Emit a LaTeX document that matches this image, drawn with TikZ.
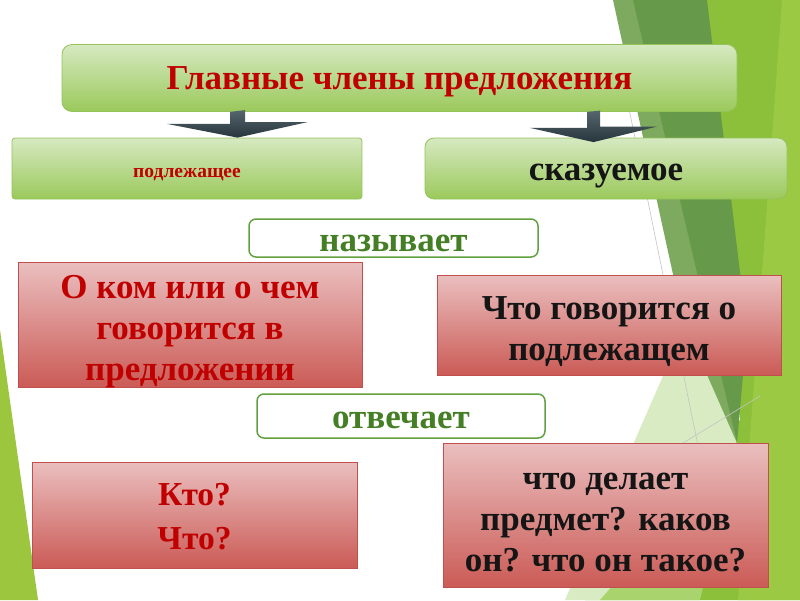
\documentclass[tikz,border=0pt]{standalone}
\usepackage{fontspec}
\setmainfont{Liberation Serif}
\usetikzlibrary{calc}
\definecolor{cBright}{HTML}{8CBF3A}
\definecolor{cStripe}{HTML}{9BC943}
\definecolor{cPale}{HTML}{D8EBC2}
\definecolor{cLight}{HTML}{A9D36C}
\definecolor{cMid}{HTML}{7DAA5E}
\definecolor{cDark}{HTML}{67994A}
\definecolor{cLine}{HTML}{C4C4C4}
\definecolor{cLeft}{HTML}{9DC63F}
\definecolor{gtop}{HTML}{D6E9C1}
\definecolor{gbot}{HTML}{9BC95B}
\definecolor{gline}{HTML}{93C35A}
\definecolor{rtop}{HTML}{EABFBF}
\definecolor{rbot}{HTML}{CB5B56}
\definecolor{rline}{HTML}{C0504D}
\definecolor{dred}{HTML}{C00000}
\definecolor{dgreen}{HTML}{457F25}
\definecolor{wline}{HTML}{62A040}
\definecolor{txtblack}{HTML}{151515}
\definecolor{arrtop}{HTML}{56666D}
\definecolor{arrbot}{HTML}{27353C}
\tikzset{
  greenbox/.style={draw=gline, line width=0.8pt, top color=gtop, bottom color=gbot,
    rounded corners=#1, inner sep=0pt},
  redbox/.style={draw=rline, line width=0.9pt, top color=rtop, bottom color=rbot,
    inner sep=0pt},
  whitebox/.style={draw=wline, line width=1.5pt, fill=white, rounded corners=7pt,
    inner sep=0pt},
  lbl/.style={inner sep=0pt, align=center},
  bigtext/.style={lbl, font=\fontsize{35}{41}\selectfont\bfseries},
  qtext/.style={lbl, font=\fontsize{33.5}{44}\selectfont\bfseries},
  smalltext/.style={lbl, font=\fontsize{19.5}{24}\selectfont\bfseries},
  arrowshape/.style={top color=arrtop, bottom color=arrbot}
}
\begin{document}
\begin{tikzpicture}[x=1pt,y=-1pt]
\useasboundingbox (0,0) rectangle (800,600);
\fill[white] (0,0) rectangle (800,600);
% background decoration
\fill[cBright] (700,0) -- (800,0) -- (800,600) -- (585,600) -- (740,420) -- cycle;
\fill[cStripe] (782,0) -- (800,0) -- (800,600) -- (738,600) -- cycle;
\fill[cPale] (705,280) -- (737,443) -- (640,600) -- (565,600) -- cycle;
\fill[cLight] (737,443) -- (700,600) -- (600,600) -- cycle;
\fill[cMid] (613,0) -- (640,0) -- (737,443) -- (683,320) -- cycle;
\fill[cDark] (633,0) -- (707,0) -- (747,330) -- (737,443) -- cycle;
\draw[cLine, line width=0.6pt] (618,55) -- (703,470);
\draw[cLine, line width=0.6pt] (683,443) -- (760,396);
\fill[cLeft] (0,330) -- (38,600) -- (0,600) -- cycle;
% boxes
\node[greenbox=10pt, minimum width=675pt, minimum height=67pt] (title) at (399.5,78) {};
\node[greenbox=3pt, minimum width=350pt, minimum height=61pt] (subj) at (187,168.5) {};
\node[greenbox=9pt, minimum width=362pt, minimum height=61pt] (pred) at (606,168.5) {};
\node[whitebox, minimum width=289pt, minimum height=38pt] (names) at (393.5,238) {};
\node[redbox, minimum width=344pt, minimum height=125pt] (subjname) at (190,324.5) {};
\node[redbox, minimum width=344pt, minimum height=100pt] (predname) at (609,325) {};
\node[whitebox, minimum width=288pt, minimum height=44pt] (answers) at (401,416) {};
\node[redbox, minimum width=325pt, minimum height=106pt] (subjq) at (194.5,515) {};
\node[redbox, minimum width=325pt, minimum height=144pt] (predq) at (605.5,515) {};
% texts
\node[bigtext, text=dred, yshift=-4pt] (titleT) at (title) {Главные члены предложения};
\node[smalltext, text=dred, yshift=-6pt] (subjT) at (subj) {подлежащее};
\node[bigtext, text=txtblack, yshift=-8pt] (predT) at (pred) {сказуемое};
\node[bigtext, text=dgreen, yshift=-5pt] (namesT) at (names) {называет};
\node[bigtext, text=dred, yshift=-7pt] (subjnameT) at (subjname)
  {О ком или о чем\\говорится в\\предложении};
\node[bigtext, text=txtblack, yshift=-7pt] (prednameT) at (predname)
  {Что говорится о\\подлежащем};
\node[bigtext, text=dgreen, yshift=-4pt] (answersT) at (answers) {отвечает};
\node[qtext, text=dred, yshift=-2pt] (subjqT) at (subjq) {Кто?\\Что?};
\node[bigtext, text=txtblack, yshift=-7pt] (predqT) at (predq)
  {что делает\\предмет? каков\\он? что он такое?};
% arrows
\coordinate (la) at (237.5,0);
\coordinate (ra) at (593.5,0);
\shade[arrowshape] (title.south -| la) ++(-7.5,0) -- ++(0,12) -- ++(-63,0)
  -- (subj.north -| la) -- ++(70,-15.5) -- ++(-62.5,0) -- ++(0,-12) -- cycle;
\shade[arrowshape] (title.south -| ra) ++(-6.5,0) -- ++(0,16) -- ++(-57,0)
  -- ($(pred.north -| ra)+(0,4.5)$) -- ++(63.5,-15.5) -- ++(-57,0) -- ++(0,-16) -- cycle;
\end{tikzpicture}
\end{document}
